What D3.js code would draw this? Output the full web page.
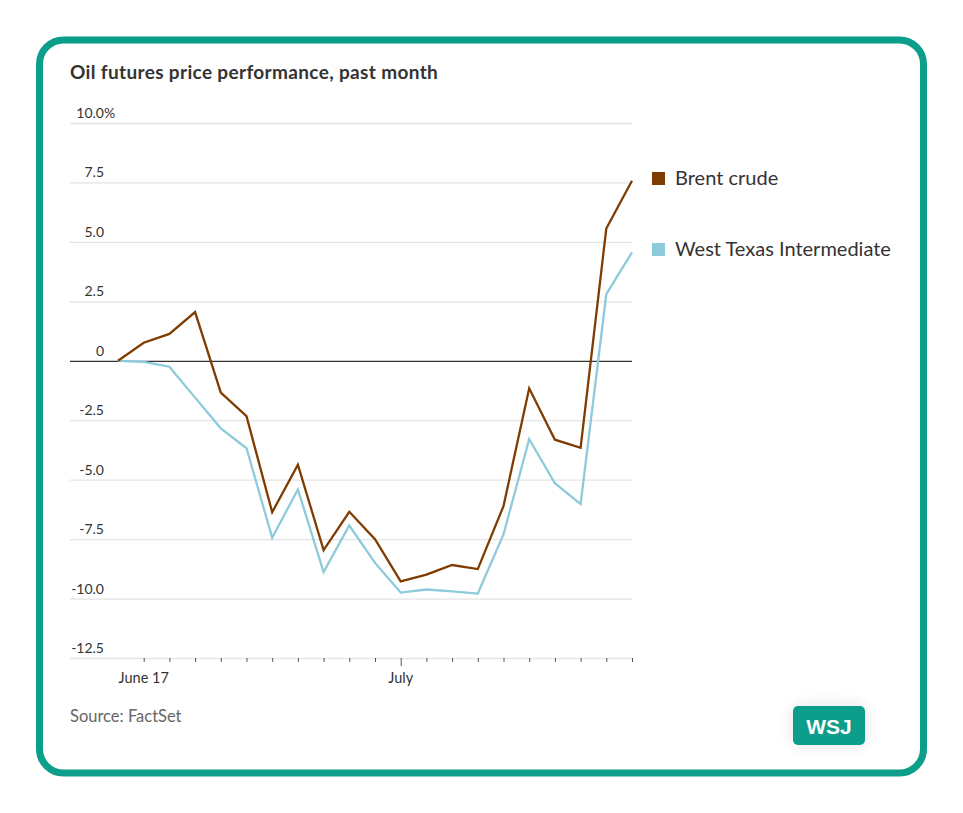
<!DOCTYPE html>
<html>
<head>
<meta charset="utf-8">
<script src="https://cdn.jsdelivr.net/npm/d3@7"></script>
<style>
  body { margin: 0; background: #fff; }
  svg text { font-family: Lato, "Noto Sans", sans-serif; fill: #333; }
</style>
</head>
<body>
<div id="chart"></div>
<script>
// trading days shown on the x axis
const dates = ['2024-06-14','2024-06-17','2024-06-18','2024-06-19','2024-06-20','2024-06-21',
  '2024-06-24','2024-06-25','2024-06-26','2024-06-27','2024-06-28','2024-07-01','2024-07-02',
  '2024-07-03','2024-07-05','2024-07-08','2024-07-09','2024-07-10','2024-07-11','2024-07-12','2024-07-15'];
const brent = [0, 0.76, 1.13, 2.05, -1.34, -2.33, -6.37, -4.37, -7.96, -6.35, -7.5, -9.28, -8.99,
  -8.59, -8.76, -6.11, -1.16, -3.32, -3.66, 5.56, 7.57];
const wti = [0, -0.05, -0.25, -1.55, -2.84, -3.68, -7.44, -5.41, -8.89, -6.93, -8.5, -9.75, -9.62,
  -9.7, -9.79, -7.3, -3.3, -5.15, -6.03, 2.8, 4.56];
const yTicks = [10, 7.5, 5, 2.5, 0, -2.5, -5, -7.5, -10, -12.5];
const xLabels = [{date: '2024-06-17', text: 'June 17'}, {date: '2024-07-01', text: 'July'}];
const seriesNames = ['Brent crude', 'West Texas Intermediate'];

(function(){
    const W = 963, H = 813;
    const teal = '#0b9e8b';
    const colors = ['#7f3c00', '#8dcada'];

    const svg = d3.select('#chart').append('svg')
        .attr('width', W).attr('height', H);

    const defs = svg.append('defs');
    const shadow = defs.append('filter').attr('id', 'soft')
        .attr('x', '-50%').attr('y', '-50%').attr('width', '200%').attr('height', '200%');
    shadow.append('feGaussianBlur').attr('in', 'SourceAlpha').attr('stdDeviation', 8);
    shadow.append('feComponentTransfer').append('feFuncA').attr('type', 'linear').attr('slope', 0.12);
    const m = shadow.append('feMerge');
    m.append('feMergeNode');
    m.append('feMergeNode').attr('in', 'SourceGraphic');

    // card
    svg.append('rect')
        .attr('x', 39.5).attr('y', 40).attr('width', 884).attr('height', 733)
        .attr('rx', 24).attr('fill', '#fff')
        .attr('stroke', teal).attr('stroke-width', 7);

    svg.append('text')
        .attr('x', 70).attr('y', 79)
        .style('font-size', '19px').style('font-weight', 700)
        .style('letter-spacing', '0.35px')
        .text('Oil futures price performance, past month');

    const left = 70, right = 632;
    const x = d3.scalePoint().domain(dates).range([118, 632]);
    const y = d3.scaleLinear().domain([-12.5, 10]).range([658, 123]);
    const fmt = d => d === 0 ? '0' : d3.format('.1f')(d).replace('\u2212', '-');

    const g = svg.append('g');

    // gridlines + labels
    const yAxis = g.append('g').attr('transform', `translate(${right},0)`)
        .call(d3.axisLeft(y).tickValues(yTicks).tickSize(right - left).tickFormat(d => ''));
    yAxis.select('.domain').remove();
    yAxis.selectAll('.tick line')
        .attr('stroke', d => d === 0 ? '#333' : '#e4e4e4')
        .attr('stroke-width', d => d === 0 ? 1.2 : 1.3);

    g.selectAll('.ylab').data(yTicks).enter().append('text')
        .attr('class', 'ylab')
        .attr('x', 104).attr('y', d => y(d) - 5)
        .attr('text-anchor', 'end')
        .style('font-size', '14px')
        .text(fmt);
    g.append('text').attr('x', 104).attr('y', y(10) - 5)
        .style('font-size', '14px').text('%');

    // x axis ticks
    const xAxis = g.append('g').attr('transform', `translate(0,${y(-12.5)})`)
        .call(d3.axisBottom(x).tickValues(dates.slice(1)).tickSize(4).tickFormat(''));
    xAxis.select('.domain').remove();
    xAxis.selectAll('.tick line').attr('stroke', '#555')
        .attr('y2', d => d === '2024-07-01' ? 8 : 4);

    g.selectAll('.xlab').data(xLabels).enter().append('text')
        .attr('x', d => x(d.date)).attr('y', 683)
        .attr('text-anchor', 'middle')
        .style('font-size', '14.5px')
        .text(d => d.text);

    // lines
    const line = d3.line().x((d, i) => x(dates[i])).y(d => y(d));
    [wti, brent].forEach((s, k) => {
        g.append('path').datum(s)
            .attr('fill', 'none')
            .attr('stroke', k === 0 ? colors[1] : colors[0])
            .attr('stroke-width', 2.3)
            .attr('stroke-linejoin', 'miter')
            .attr('d', line);
    });

    // legend
    const leg = svg.append('g').attr('transform', 'translate(652,172)');
    seriesNames.forEach((n, i) => {
        leg.append('rect').attr('x', 0).attr('y', i * 71)
            .attr('width', 13).attr('height', 13).attr('fill', colors[i]);
        leg.append('text').attr('x', 23).attr('y', i * 71 + 13)
            .style('font-size', '20px').text(n);
    });

    svg.append('text').attr('x', 70).attr('y', 722)
        .style('font-size', '16.5px').style('fill', '#666')
        .text('Source: FactSet');

    // logo
    const logo = svg.append('g').attr('filter', 'url(#soft)');
    logo.append('rect').attr('x', 793).attr('y', 706).attr('width', 72).attr('height', 39)
        .attr('rx', 5).attr('fill', teal);
    svg.append('text').attr('x', 829).attr('y', 734)
        .attr('text-anchor', 'middle')
        .style('font-family', '"Liberation Sans", Arial, sans-serif')
        .style('font-size', '21px').style('font-weight', 700).style('fill', '#fff')
        .text('WSJ');
})();
</script>
</body>
</html>
